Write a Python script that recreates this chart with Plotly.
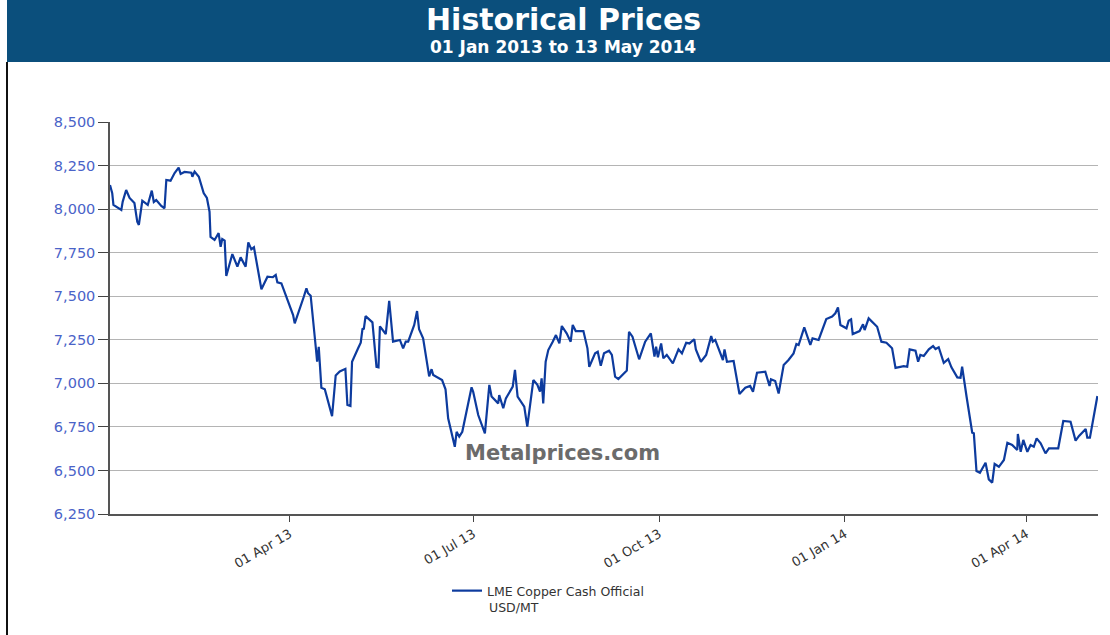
import pandas as pd
import plotly.graph_objects as go

# day offsets from 01 Jan 2013
days = [1.0, 2.1, 2.7, 6.6, 7.3, 9.0, 10.7, 13.1, 14.5, 15.3, 17.0, 19.7, 21.7, 22.7, 23.9, 26.4, 28.0, 28.9,
        31.0, 33.0, 35.0, 36.0, 37.9, 41.3, 41.8, 42.9, 45.0, 47.4, 49.0, 50.3, 50.8, 52.8, 54.8, 55.8, 56.6,
        57.8, 58.6, 61.6, 64.1, 65.7, 68.2, 69.5, 71.0, 72.3, 76.0, 79.0, 81.7, 83.1, 83.9, 85.9, 91.7, 92.5,
        97.0, 98.3, 99.1, 100.4, 102.9, 103.6, 104.4, 105.7, 107.4, 111.0, 112.8, 114.8, 117.6, 118.6, 120.1,
        120.9, 123.9, 125.2, 126.1, 126.7, 127.6, 130.5, 131.0, 133.0, 134.0, 134.7, 136.3, 137.6, 139.3,
        141.2, 144.6, 146.2, 147.5, 148.7, 151.7, 153.1, 154.1, 156.1, 159.1, 160.3, 161.1, 165.5, 167.2,
        168.5, 171.8, 172.7, 174.0, 175.5, 180.1, 180.9, 183.4, 186.7, 188.9, 190.0, 193.3, 193.8, 195.8,
        197.1, 200.5, 201.6, 202.9, 206.2, 207.7, 210.7, 212.7, 214.0, 214.8, 215.6, 216.8, 218.1, 220.3,
        221.9, 223.6, 224.8, 227.2, 229.2, 230.2, 231.7, 235.5, 237.5, 238.4, 241.3, 242.6, 244.1, 245.7,
        248.2, 249.6, 251.2, 252.8, 257.0, 258.1, 259.8, 263.1, 266.1, 268.9, 270.7, 271.5, 272.4, 274.0,
        275.1, 276.8, 279.8, 282.6, 284.3, 286.4, 288.0, 290.4, 291.2, 293.7, 296.3, 298.8, 299.6, 300.8,
        304.6, 305.4, 306.6, 309.9, 312.8, 315.7, 318.1, 319.5, 321.5, 325.6, 327.7, 328.4, 330.5, 332.2,
        334.7, 337.1, 339.6, 341.0, 342.1, 344.9, 347.9, 349.0, 352.0, 355.8, 358.7, 360.3, 361.6, 362.8,
        365.8, 366.9, 368.1, 368.9, 372.3, 374.0, 374.8, 376.8, 381.0, 383.1, 385.6, 388.4, 390.1, 394.2,
        395.9, 397.1, 400.0, 401.3, 402.4, 404.1, 406.6, 408.7, 409.9, 411.5, 412.4, 414.0, 416.2, 417.8,
        420.7, 422.3, 423.1, 423.9, 425.3, 428.1, 428.9, 430.2, 431.9, 434.7, 436.3, 438.0, 439.2, 441.3,
        443.8, 445.5, 447.9, 450.4, 450.7, 452.1, 453.4, 455.4, 457.0, 458.6, 460.0, 462.0, 464.4, 466.1,
        470.7, 473.2, 476.8, 479.3, 481.0, 484.3, 485.1, 486.4, 490.1]

prices = [8138, 8091, 8024, 7995, 8043, 8110, 8064, 8035, 7928, 7909, 8048, 8024, 8106, 8041, 8052, 8018, 8005,
          8167, 8163, 8207, 8238, 8202, 8213, 8209, 8186, 8215, 8186, 8092, 8064, 7985, 7840, 7823, 7862, 7784,
          7828, 7819, 7616, 7742, 7670, 7723, 7670, 7809, 7769, 7781, 7540, 7612, 7609, 7622, 7580, 7574, 7392,
          7344, 7497, 7545, 7517, 7503, 7210, 7124, 7210, 6975, 6966, 6812, 7045, 7068, 7083, 6876, 6870, 7124,
          7201, 7233, 7316, 7310, 7386, 7354, 7350, 7095, 7092, 7327, 7306, 7283, 7474, 7239, 7249, 7201, 7239,
          7239, 7335, 7415, 7310, 7258, 7040, 7081, 7048, 7019, 6966, 6799, 6636, 6722, 6694, 6722, 6977, 6952,
          6818, 6713, 6991, 6924, 6885, 6933, 6857, 6914, 6981, 7077, 6924, 6866, 6751, 7019, 6991, 6952, 7029,
          6885, 7124, 7191, 7239, 7277, 7229, 7329, 7287, 7239, 7335, 7300, 7300, 7201, 7095, 7172, 7181, 7101,
          7172, 7187, 7163, 7038, 7025, 7073, 7296, 7268, 7138, 7239, 7287, 7153, 7210, 7150, 7229, 7144, 7163,
          7115, 7195, 7172, 7233, 7229, 7253, 7195, 7124, 7163, 7271, 7239, 7249, 7134, 7195, 7124, 7128, 6939,
          6975, 6985, 6952, 7061, 7067, 6985, 7023, 7013, 6942, 7105, 7134, 7172, 7226, 7220, 7321, 7220, 7258,
          7249, 7369, 7383, 7402, 7436, 7335, 7316, 7359, 7367, 7283, 7300, 7339, 7306, 7373, 7325, 7239, 7233,
          7201, 7089, 7099, 7095, 7195, 7187, 7124, 7163, 7157, 7195, 7214, 7197, 7207, 7172, 7118, 7139, 7092,
          7034, 7032, 7095, 7029, 6923, 6717, 6713, 6497, 6487, 6544, 6449, 6430, 6537, 6521, 6560, 6659, 6646,
          6617, 6709, 6607, 6675, 6607, 6646, 6636, 6684, 6656, 6598, 6627, 6627, 6784, 6780, 6671, 6698, 6738,
          6688, 6688, 6927]

tick_dates = ["2013-04-01", "2013-07-01", "2013-10-01", "2014-01-01", "2014-04-01"]
tick_labels = ["01 Apr 13", "01 Jul 13", "01 Oct 13", "01 Jan 14", "01 Apr 14"]
y_ticks = [6250, 6500, 6750, 7000, 7250, 7500, 7750, 8000, 8250, 8500]

base = pd.Timestamp("2013-01-01")
dates = [base + pd.to_timedelta(d, unit="D") for d in days]
x_start = base + pd.to_timedelta(1.0, unit="D")
x_end = base + pd.to_timedelta(490.4, unit="D")

FONT = "DejaVu Sans, Verdana, Arial"

fig = go.Figure()
fig.add_trace(go.Scatter(
    x=dates, y=prices, mode="lines",
    line=dict(color="#0d3b9e", width=2.2),
    name="LME Copper Cash Official",
    showlegend=True,
))

W, H = 1110, 635
L, R, T, B = 110, 12, 122, 121
pw, ph = W - L - R, H - T - B

def px(x):
    return (x - L) / pw

def py(y):
    return (H - B - y) / ph

fig.update_layout(
    width=W, height=H,
    margin=dict(l=L, r=R, t=T, b=B),
    paper_bgcolor="white", plot_bgcolor="white",
    font=dict(family=FONT, color="#333"),
    showlegend=True,
    legend=dict(x=px(447), y=py(591), xanchor="left", yanchor="middle",
                font=dict(size=12.5, color="#333", family=FONT), bgcolor="rgba(0,0,0,0)",
                itemwidth=30, tracegroupgap=0),
    xaxis=dict(
        type="date", range=[x_start, x_end],
        tickvals=tick_dates, ticktext=tick_labels, tickangle=-30,
        ticks="outside", ticklen=6, tickcolor="#444",
        tickfont=dict(size=13, color="#333", family=FONT),
        showgrid=False, showline=True, linecolor="#555", linewidth=1.5,
        zeroline=False,
    ),
    yaxis=dict(
        range=[6250, 8500], tickvals=y_ticks, tickformat=",d",
        ticks="outside", ticklen=10, tickcolor="#444",
        tickfont=dict(size=14.5, color="#4a63c8", family=FONT),
        showgrid=True, gridcolor="#b4b4b4", gridwidth=1,
        showline=True, linecolor="#555", linewidth=1.5,
        zeroline=False,
    ),
    shapes=[
        dict(type="rect", xref="paper", yref="paper", x0=px(7), x1=px(1110), y0=py(62), y1=py(0),
             fillcolor="#0b4f7c", line=dict(width=0), layer="above"),
        dict(type="line", xref="paper", yref="paper", x0=px(7), x1=px(7), y0=py(62), y1=py(635),
             line=dict(color="#111", width=2)),
    ],
    annotations=[
        dict(text="<b>Historical Prices</b>", xref="paper", yref="paper", x=px(563), y=py(19),
             xanchor="center", yanchor="middle",
             showarrow=False, font=dict(size=30, color="white", family=FONT)),
        dict(text="<b>01 Jan 2013 to 13 May 2014</b>", xref="paper", yref="paper", x=px(563), y=py(47),
             xanchor="center", yanchor="middle",
             showarrow=False, font=dict(size=17, color="white", family=FONT)),
        dict(text="<b>Metalprices.com</b>", xref="paper", yref="paper", x=px(562), y=py(453),
             xanchor="center", yanchor="middle",
             showarrow=False, font=dict(size=21, color="#6b6b6b", family=FONT)),
        dict(text="USD/MT", xref="paper", yref="paper", x=px(487), y=py(607),
             xanchor="left", yanchor="middle",
             showarrow=False, font=dict(size=12.5, color="#333", family=FONT)),
    ],
)

fig.write_html("out.html", config={"displayModeBar": False},
               post_script="document.body.style.margin='0px';document.body.style.overflow='hidden';")
